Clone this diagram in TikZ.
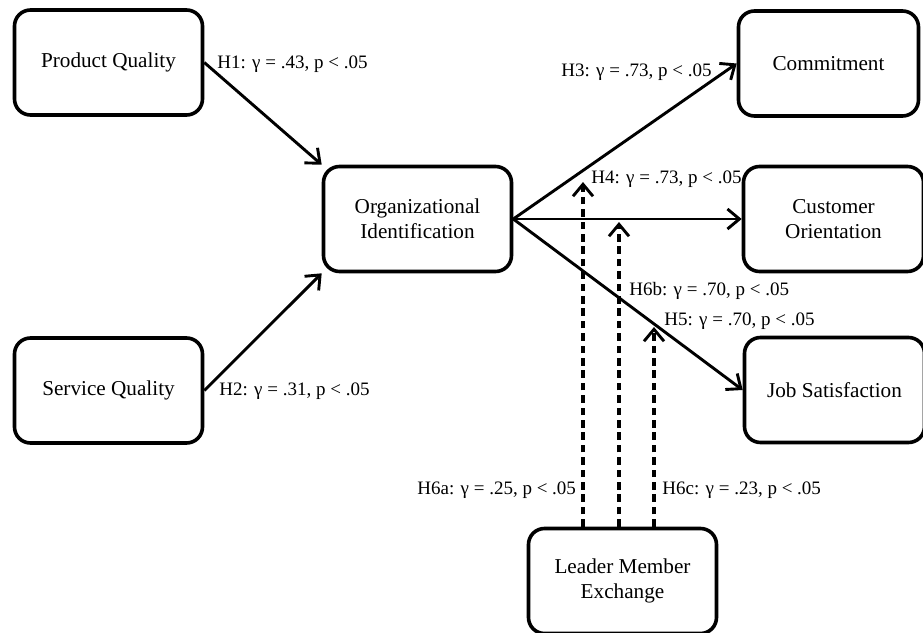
\documentclass[tikz,border=0pt]{standalone}
\usepackage{fontspec}
\setmainfont{Liberation Serif}
\usetikzlibrary{arrows.meta}
\tikzset{
	box/.style={draw, line width=1.8pt, rounded corners=8pt, minimum width=94pt, minimum height=52.5pt, align=center, inner sep=0pt, font=\fontsize{10.6}{12.6}\selectfont},
	rbox/.style={box, minimum width=90pt},
	lbl/.style={anchor=base west, inner sep=0pt, font=\fontsize{9.5}{11}\selectfont},
	link/.style={line width=1.45pt, -{Straight Barb[length=6pt,width=10pt,line width=1.45pt]}},
	modlink/.style={link, line width=1.6pt, dash pattern=on 3.8pt off 2.4pt}
}

\begin{document}
\begin{tikzpicture}[x=0.5pt, y=-0.5pt]
		\useasboundingbox (0,0) rectangle (923,633);

		\node[box] (pq) at (108.5, 62.5) {Product Quality};
		\node[box] (sq) at (108.5, 390.5) {Service Quality};
		\node[box] (oi) at (417.5, 219) {Organizational\\Identification};
		\node[rbox] (com) at (828.5, 63.5) {Commitment};
		\node[rbox] (co) at (833.5, 219) {Customer\\Orientation};
		\node[rbox] (js) at (834.5, 390) {Job Satisfaction};
		\node[box] (lmx) at (622.5, 581) {Leader Member\\Exchange};

		\coordinate (t6a) at (583, 182);
		\coordinate (t6b) at (619, 222);
		\coordinate (t6c) at (654, 327);

		\draw[link] (pq.east) -- (oi.north west);
		\draw[link] (sq.east) -- (oi.south west);
		\draw[link] (oi.east) -- (com.west);
		\draw[link] (oi.east) -- (co.west);
		\draw[link] (oi.east) -- (js.west);

		\draw[modlink] (lmx.north -| t6a) -- (t6a);
		\draw[modlink] (lmx.north -| t6b) -- (t6b);
		\draw[modlink] (lmx.north -| t6c) -- (t6c);

		\node[lbl] (h1) at (217, 68) {H1: γ = .43, p < .05};
		\node[lbl] (h2) at (219, 395) {H2: γ = .31, p < .05};
		\node[lbl] (h3) at (561, 76) {H3: γ = .73, p < .05};
		\node[lbl] (h4) at (591, 183) {H4: γ = .73, p < .05};
		\node[lbl] (h6b) at (629, 295) {H6b: γ = .70, p < .05};
		\node[lbl] (h5) at (664, 325) {H5: γ = .70, p < .05};
		\node[lbl] (h6a) at (417, 494) {H6a: γ = .25, p < .05};
		\node[lbl] (h6c) at (662, 494) {H6c: γ = .23, p < .05};
	\end{tikzpicture}
\end{document}
